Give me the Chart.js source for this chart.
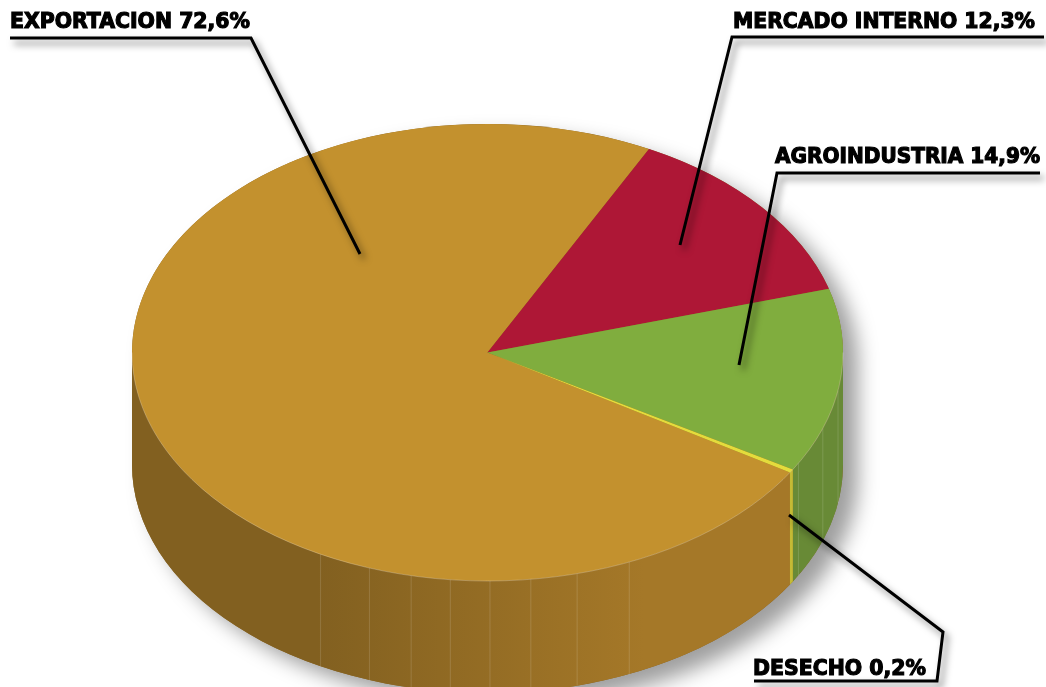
<!DOCTYPE html>
<html>
<head>
<meta charset="utf-8">
<style>
  html, body { margin: 0; padding: 0; background: #fff; overflow: hidden; }
  canvas { display: block; }
</style>
<script src="https://cdn.jsdelivr.net/npm/chart.js@4"></script>
</head>
<body>
<canvas id="myChart" width="1046" height="687"></canvas>
<script>
const categories = ['EXPORTACION', 'MERCADO INTERNO', 'AGROINDUSTRIA', 'DESECHO'];
// percentages as printed on the labels
const printedValues = ['72,6%', '12,3%', '14,9%', '0,2%'];
// shares as actually drawn in the picture (slice angles differ a bit from the printed ones)
const drawnShares = [73.7, 13.0, 13.05, 0.25];
const topColors = ['#c3912e', '#ae1736', '#80ad3e', '#e4dc3c'];
const sideColors = ['#916a26', '#7d1026', '#688a36', '#c4bb35'];

// look of the tilted pie
const rimX = 355.5;
const rimY = 228.5;
const depth = 112;
const rotationDeg = 121.7;
// thin facet lines on the side, in degrees on the rim (0 = right, 90 = front)
const facetAngles = [9.6, 19.4, 29, 66.5, 75.4, 83, 89.6, 96, 102.4, 109.4, 118];

// callouts: text box and leader line
const callouts = [
    { i: 0, x: 10, base: 28, w: 240, line: [[10, 38], [251, 38], [360, 254]] },
    { i: 1, x: 733, base: 28, w: 302, line: [[1044, 37], [732, 37], [680, 245]] },
    { i: 2, x: 775, base: 163, w: 265, line: [[1040, 173], [777, 173], [739, 365]] },
    { i: 3, x: 753, base: 675, w: 173, line: [[789, 515], [943, 632], [937, 681], [754, 681]] }
];

function rimPath(ctx, cx, cy, from, to) {
    ctx.beginPath();
    ctx.ellipse(cx, cy, rimX, rimY, 0, from, to);
    ctx.ellipse(cx, cy + depth, rimX, rimY, 0, to, from, true);
    ctx.closePath();
}

const tiltedPie = {
    id: 'tiltedPie',
    beforeDatasetsDraw(chart) {
        const ctx = chart.ctx;
        const arcs = chart.getDatasetMeta(0).data;
        const cx = arcs[0].x;
        const cy = arcs[0].y;

        // soft shadow of the whole body
        ctx.save();
        ctx.shadowColor = 'rgba(0,0,0,0.38)';
        ctx.shadowBlur = 20;
        ctx.shadowOffsetX = 15;
        ctx.shadowOffsetY = 12;
        ctx.fillStyle = '#8a6423';
        ctx.beginPath();
        ctx.ellipse(cx, cy + depth, rimX, rimY, 0, 0, Math.PI);
        ctx.ellipse(cx, cy, rimX, rimY, 0, Math.PI, Math.PI * 2);
        ctx.closePath();
        ctx.fill();
        ctx.restore();

        // side faces, only the part that faces the viewer
        arcs.forEach((arc, i) => {
            [0, -Math.PI * 2].forEach((shift) => {
                const from = Math.max(arc.startAngle + shift, 0);
                const to = Math.min(arc.endAngle + shift, Math.PI);
                if (to <= from) return;
                let fill = sideColors[i];
                if (i === 0) {
                    const g = ctx.createLinearGradient(cx - rimX, 0, cx + rimX, 0);
                    g.addColorStop(0, '#826020');
                    g.addColorStop(0.26, '#826020');
                    g.addColorStop(0.72, '#a57828');
                    g.addColorStop(1, '#a57828');
                    fill = g;
                }
                rimPath(ctx, cx, cy, from, to);
                ctx.fillStyle = fill;
                ctx.fill();
            });
        });

        // facet lines
        ctx.save();
        ctx.strokeStyle = 'rgba(255,255,255,0.14)';
        ctx.lineWidth = 1;
        facetAngles.forEach((deg) => {
            const a = deg * Math.PI / 180;
            const x = cx + rimX * Math.cos(a);
            const y = cy + rimY * Math.sin(a);
            ctx.beginPath();
            ctx.moveTo(x, y);
            ctx.lineTo(x, y + depth);
            ctx.stroke();
        });
        ctx.restore();

        // squash the round pie into the ellipse
        const r = arcs[0].outerRadius;
        ctx.save();
        ctx.translate(cx, cy);
        ctx.scale(rimX / r, rimY / r);
        ctx.translate(-cx, -cy);
    },
    afterDatasetsDraw(chart) {
        const ctx = chart.ctx;
        ctx.restore();
        const arc = chart.getDatasetMeta(0).data[0];

        // pale edge between top and side
        ctx.save();
        ctx.strokeStyle = 'rgba(255,255,255,0.3)';
        ctx.lineWidth = 0.8;
        ctx.beginPath();
        ctx.ellipse(arc.x, arc.y, rimX, rimY, 0, 0, Math.PI);
        ctx.stroke();
        ctx.restore();
    },
    afterDraw(chart) {
        const ctx = chart.ctx;
        callouts.forEach((c) => {
            ctx.save();
            ctx.shadowColor = 'rgba(0,0,0,0.5)';
            ctx.shadowBlur = 7;
            ctx.shadowOffsetX = 4;
            ctx.shadowOffsetY = 5;
            ctx.strokeStyle = '#000';
            ctx.lineWidth = 3;
            ctx.lineJoin = 'miter';
            ctx.beginPath();
            c.line.forEach((p, n) => (n ? ctx.lineTo(p[0], p[1]) : ctx.moveTo(p[0], p[1])));
            ctx.stroke();
            ctx.restore();

            const text = categories[c.i] + ' ' + printedValues[c.i];
            ctx.save();
            ctx.font = 'bold 21px "DejaVu Sans"';
            ctx.textBaseline = 'alphabetic';
            ctx.textAlign = 'left';
            ctx.fillStyle = '#000';
            ctx.strokeStyle = '#000';
            ctx.lineWidth = 1.2;
            ctx.translate(c.x, c.base);
            ctx.scale(c.w / ctx.measureText(text).width, 1);
            ctx.fillText(text, 0, 0);
            ctx.strokeText(text, 0, 0);
            ctx.restore();
        });
    }
};

const ctx = document.getElementById('myChart').getContext('2d');

new Chart(ctx, {
    type: 'pie',
    data: {
        labels: categories,
        datasets: [{
            data: drawnShares,
            backgroundColor: topColors,
            borderWidth: 0
        }]
    },
    options: {
        responsive: false,
        animation: false,
        rotation: rotationDeg,
        layout: { padding: { left: 0, right: 71, top: 18, bottom: 0 } },
        plugins: {
            legend: { display: false },
            tooltip: { enabled: false }
        }
    },
    plugins: [tiltedPie]
});
</script>
</body>
</html>
